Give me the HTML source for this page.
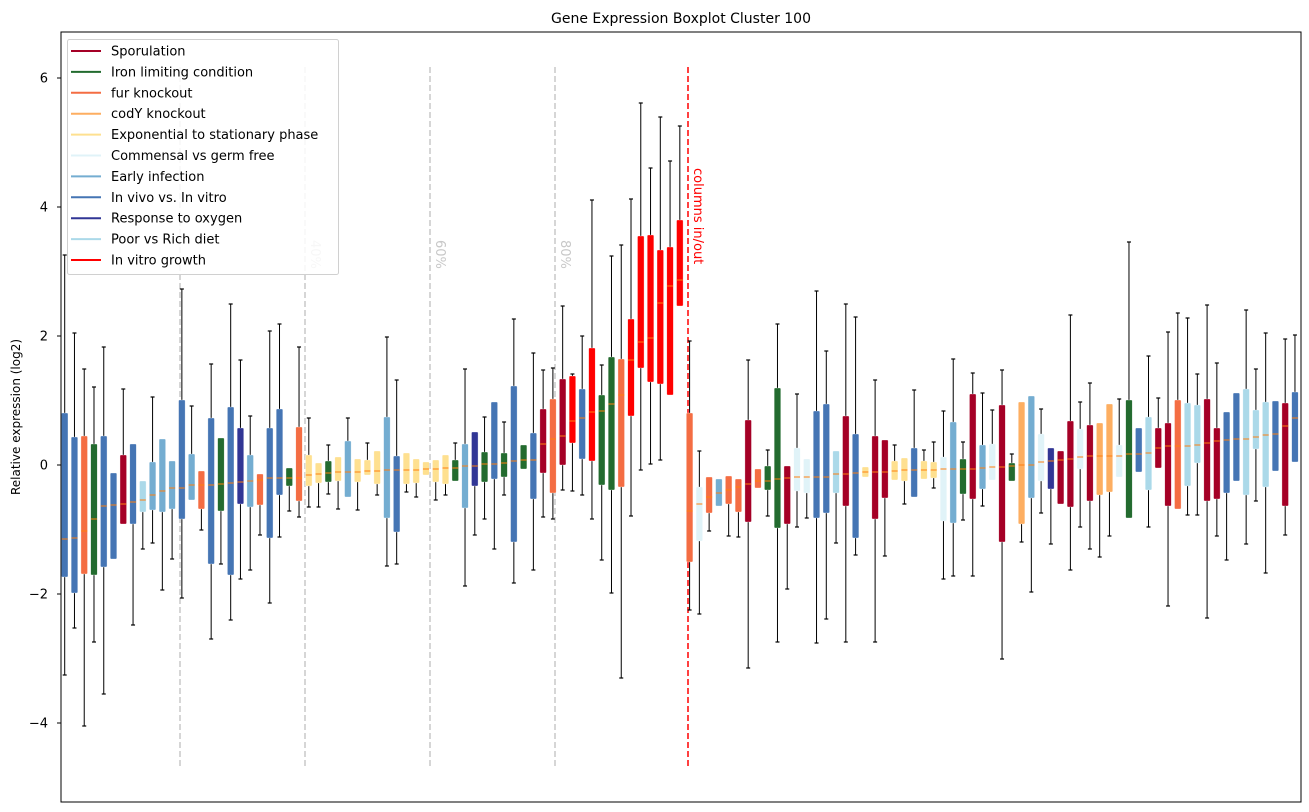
<!DOCTYPE html>
<html><head><meta charset="utf-8"><style>
html,body{margin:0;padding:0;background:#fff;}
svg{display:block;font-family:"DejaVu Sans","Liberation Sans",sans-serif;}
</style></head><body>
<svg id="s" width="1309" height="812" xmlns="http://www.w3.org/2000/svg">
<rect width="1309" height="812" fill="#fff"/>
<text x="681" y="23" font-size="14" text-anchor="middle" fill="#000">Gene Expression Boxplot Cluster 100</text>
<text transform="translate(20,417) rotate(-90)" font-size="12" text-anchor="middle" fill="#000">Relative expression (log2)</text>
<g id="g"></g>
<rect x="61" y="32" width="1240" height="770" fill="none" stroke="#000" stroke-width="1"/>
</svg>
<script>
var C={S:"#a50026",I:"#236b2f",F:"#f46d43",Y:"#fdae61",E:"#fee090",M:"#e0f3f8",A:"#74add1",V:"#4575b4",O:"#313695",P:"#abd9e9",R:"#ff0000"};
var D=[
["V",413,577,539,255,675],["V",437,593,538,333,628],["F",436,574,531,369,726],["I",444,575,519,387,642],["V",436,567,506,347,694],
["V",473,559,505,0,0],["S",455,524,504,389,0],["V",444,524,502,0,625],["P",481,512,500,0,549],["A",462,510,495,397,543],
["A",439,512,491,0,590],["A",461,509,488,0,559],["V",400,519,488,289,598],["A",454,500,485,406,0],["F",471,509,485,0,530],
["V",418,564,485,364,639],["I",438,511,484,0,564],["V",407,575,483,304,620],["O",428,504,482,360,579],["A",455,507,481,416,570],
["F",474,505,480,0,535],["V",428,538,478,331,603],["V",409,495,478,324,537],["I",468,486,478,0,511],["F",427,501,478,347,517],
["E",455,486,475,418,507],["E",463,483,474,0,507],["I",461,482,473,445,494],["E",457,481,472,0,509],["A",441,497,472,418,0],
["E",459,482,472,0,510],["E",460,475,471,443,0],["E",451,484,471,0,495],["A",417,518,470,337,566],["V",456,532,470,380,564],
["E",453,484,470,0,492],["E",459,483,470,0,497],["E",462,475,469,0,0],["E",460,482,469,0,500],["E",455,484,468,0,495],
["I",460,481,468,443,0],["A",444,508,466,369,586],["O",432,486,466,0,535],["I",452,482,464,417,519],["V",402,479,464,0,549],
["I",453,477,463,422,495],["V",386,542,461,319,583],["I",445,469,460,0,0],["V",433,499,460,353,570],["S",409,473,444,370,517],
["F",399,493,439,368,519],["S",379,465,436,306,490],["R",376,443,421,374,491],["V",389,459,418,336,495],["R",348,461,412,200,519],
["I",395,485,411,365,560],["I",357,490,404,256,593],["F",359,487,395,245,678],["R",319,416,360,199,516],["R",236,368,342,103,470],
["R",235,382,338,168,464],["R",250,384,303,117,460],["R",247,395,286,161,0],["R",220,306,280,126,0],["F",413,562,511,341,610],
["M",487,541,504,451,614],["F",477,513,497,0,531],["A",479,506,493,0,0],["F",476,504,490,0,536],["F",479,512,487,0,537],
["S",420,522,484,360,668],["F",469,488,481,0,0],["I",466,490,481,450,516],["I",388,528,479,324,642],["S",466,524,478,0,589],
["M",448,491,477,394,527],["M",459,493,477,0,518],["V",411,518,477,291,643],["V",404,513,477,351,619],["P",451,493,474,0,543],
["S",416,506,474,304,642],["V",434,538,473,317,555],["E",467,477,472,0,0],["S",436,519,472,380,642],["S",440,498,472,0,556],
["E",461,480,471,445,0],["E",458,481,470,0,504],["V",448,497,470,390,0],["E",461,479,470,450,0],["E",462,478,470,442,488],
["M",457,521,469,411,579],["A",422,523,469,359,576],["I",459,494,469,442,520],["S",394,499,469,373,576],["A",445,489,468,393,506],
["M",444,480,467,410,0],["S",405,542,467,370,659],["I",463,481,466,454,0],["Y",402,524,465,0,542],["A",396,498,465,0,592],
["M",434,481,462,409,513],["O",448,489,461,0,544],["S",451,504,460,0,0],["S",421,507,459,315,570],["M",429,469,457,402,527],
["S",425,501,456,383,549],["Y",423,495,456,0,557],["Y",404,492,456,0,536],["M",445,477,456,399,0],["I",400,518,454,242,0],
["V",428,472,454,0,0],["P",417,490,453,356,527],["S",428,468,448,398,0],["S",423,506,446,332,606],["F",400,509,446,313,0],
["P",403,486,446,318,515],["P",405,463,445,374,515],["S",399,501,443,305,618],["S",428,499,441,363,536],["V",412,493,440,0,560],
["V",393,481,439,0,0],["P",389,495,439,310,544],["P",410,449,437,369,501],["P",402,487,435,333,573],["V",401,471,434,0,0],
["S",403,506,426,339,535],["V",392,462,418,335,0]
];
var g=document.getElementById("g"),h="";
[180,305,430,555].forEach(function(x){h+='<line x1="'+x+'" y1="67" x2="'+x+'" y2="767" stroke="#c8c8c8" stroke-width="1.5" stroke-dasharray="6,3"/>';});
h+='<line x1="688" y1="67" x2="688" y2="767" stroke="#ff0000" stroke-width="1.5" stroke-dasharray="6,3"/>';
[["40%",315],["60%",440],["80%",565]].forEach(function(a){h+='<text transform="translate('+(a[1]-4)+',240) rotate(90)" font-size="13" fill="#c8c8c8">'+a[0]+'</text>';});
h+='<text transform="translate(694,168) rotate(90)" font-size="13" fill="#ff0000">columns in/out</text>';
[[6,78],[4,207],[2,336],[0,465],[-2,594],[-4,723]].forEach(function(t){
h+='<line x1="57" y1="'+t[1]+'" x2="61" y2="'+t[1]+'" stroke="#000"/>';
h+='<text x="48" y="'+(t[1]+4.5)+'" font-size="13" text-anchor="end">'+(t[0]<0?'\u2212'+(-t[0]):t[0])+'</text>';});
for(var i=0;i<D.length;i++){
var d=D[i],x=64.7+i*9.764,hi=d[4]||d[1],lo=d[5]||d[2];
h+='<line x1="'+x+'" y1="'+hi+'" x2="'+x+'" y2="'+lo+'" stroke="#000" stroke-width="1"/>';
if(d[4])h+='<line x1="'+(x-2)+'" y1="'+hi+'" x2="'+(x+2)+'" y2="'+hi+'" stroke="#000" stroke-width="1.2"/>';
if(d[5])h+='<line x1="'+(x-2)+'" y1="'+lo+'" x2="'+(x+2)+'" y2="'+lo+'" stroke="#000" stroke-width="1.2"/>';
h+='<rect x="'+(x-3.3)+'" y="'+d[1]+'" width="6.6" height="'+(d[2]-d[1])+'" fill="'+C[d[0]]+'" stroke="#fff" stroke-opacity="0.6" stroke-width="0.6" rx="1"/>';
h+='<line x1="'+(x-3)+'" y1="'+d[3]+'" x2="'+(x+3)+'" y2="'+d[3]+'" stroke="#ff7f0e" stroke-width="1"/>';
}
h+='<rect x="67.5" y="39.5" width="271" height="235" rx="2" fill="#fff" fill-opacity="0.85" stroke="#d0d0d0"/>';
var L=[["S","Sporulation"],["I","Iron limiting condition"],["F","fur knockout"],["Y","codY knockout"],["E","Exponential to stationary phase"],["M","Commensal vs germ free"],["A","Early infection"],["V","In vivo vs. In vitro"],["O","Response to oxygen"],["P","Poor vs Rich diet"],["R","In vitro growth"]];
L.forEach(function(l,k){var y=51+k*20.9;
h+='<line x1="71" y1="'+y+'" x2="101" y2="'+y+'" stroke="'+C[l[0]]+'" stroke-width="2"/>';
h+='<text x="111" y="'+(y+4.5)+'" font-size="13" fill="#000">'+l[1]+'</text>';});
g.innerHTML=h;
</script>
</body></html>
